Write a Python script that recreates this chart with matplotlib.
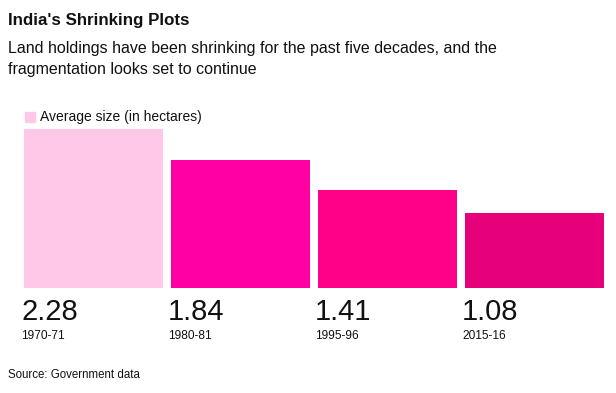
import matplotlib
matplotlib.use('Agg')
import matplotlib.pyplot as plt

years = ['1970-71', '1980-81', '1995-96', '2015-16']
avg_size = [2.28, 1.84, 1.41, 1.08]
colors = ['#FFC8E9', '#FF00A5', '#FF0088', '#E6007A']

plt.rcParams['font.family'] = ['Liberation Sans', 'DejaVu Sans']

W, H = 616, 393
fig = plt.figure(figsize=(W / 100, H / 100), dpi=100)

# axes box in pixel coords: x 24..604, y 129..288
ax = fig.add_axes([24 / W, 1 - 288 / H, 580 / W, 159 / H])
width = 139 / 147
xs = list(range(len(years)))
ax.bar(xs, avg_size, width=width, color=colors)
ax.set_xlim(-width / 2, xs[-1] + width / 2)
ax.set_ylim(0, max(avg_size))
ax.axis('off')

for x, v, yr in zip(xs, avg_size, years):
    ax.annotate(f'{v:.2f}', (x - width / 2, 0), xytext=(-2, -7),
                textcoords='offset points', ha='left', va='top',
                fontsize=21, color='#111111')
    ax.annotate(yr, (x - width / 2, 0), xytext=(-2, -30),
                textcoords='offset points', ha='left', va='top',
                fontsize=8.6, color='#111111')

fig.text(8 / W, 1 - 13 / H, "India's Shrinking Plots", fontsize=12.2,
         fontweight='bold', ha='left', va='top', color='#111111')
fig.text(8 / W, 1 - 41 / H,
         'Land holdings have been shrinking for the past five decades, and the\n'
         'fragmentation looks set to continue',
         fontsize=11.5, ha='left', va='top', color='#111111', linespacing=1.5)

# legend
fig.patches.append(plt.Rectangle((25 / W, 1 - 122 / H), 10 / W, 10 / H,
                                 transform=fig.transFigure, color=colors[0]))
fig.text(40 / W, 1 - 117 / H, 'Average size (in hectares)', fontsize=10,
         ha='left', va='center', color='#111111')

fig.text(8 / W, 1 - 375 / H, 'Source: Government data', fontsize=8.3,
         ha='left', va='center', color='#111111')

fig.savefig('out.png', dpi=100)
